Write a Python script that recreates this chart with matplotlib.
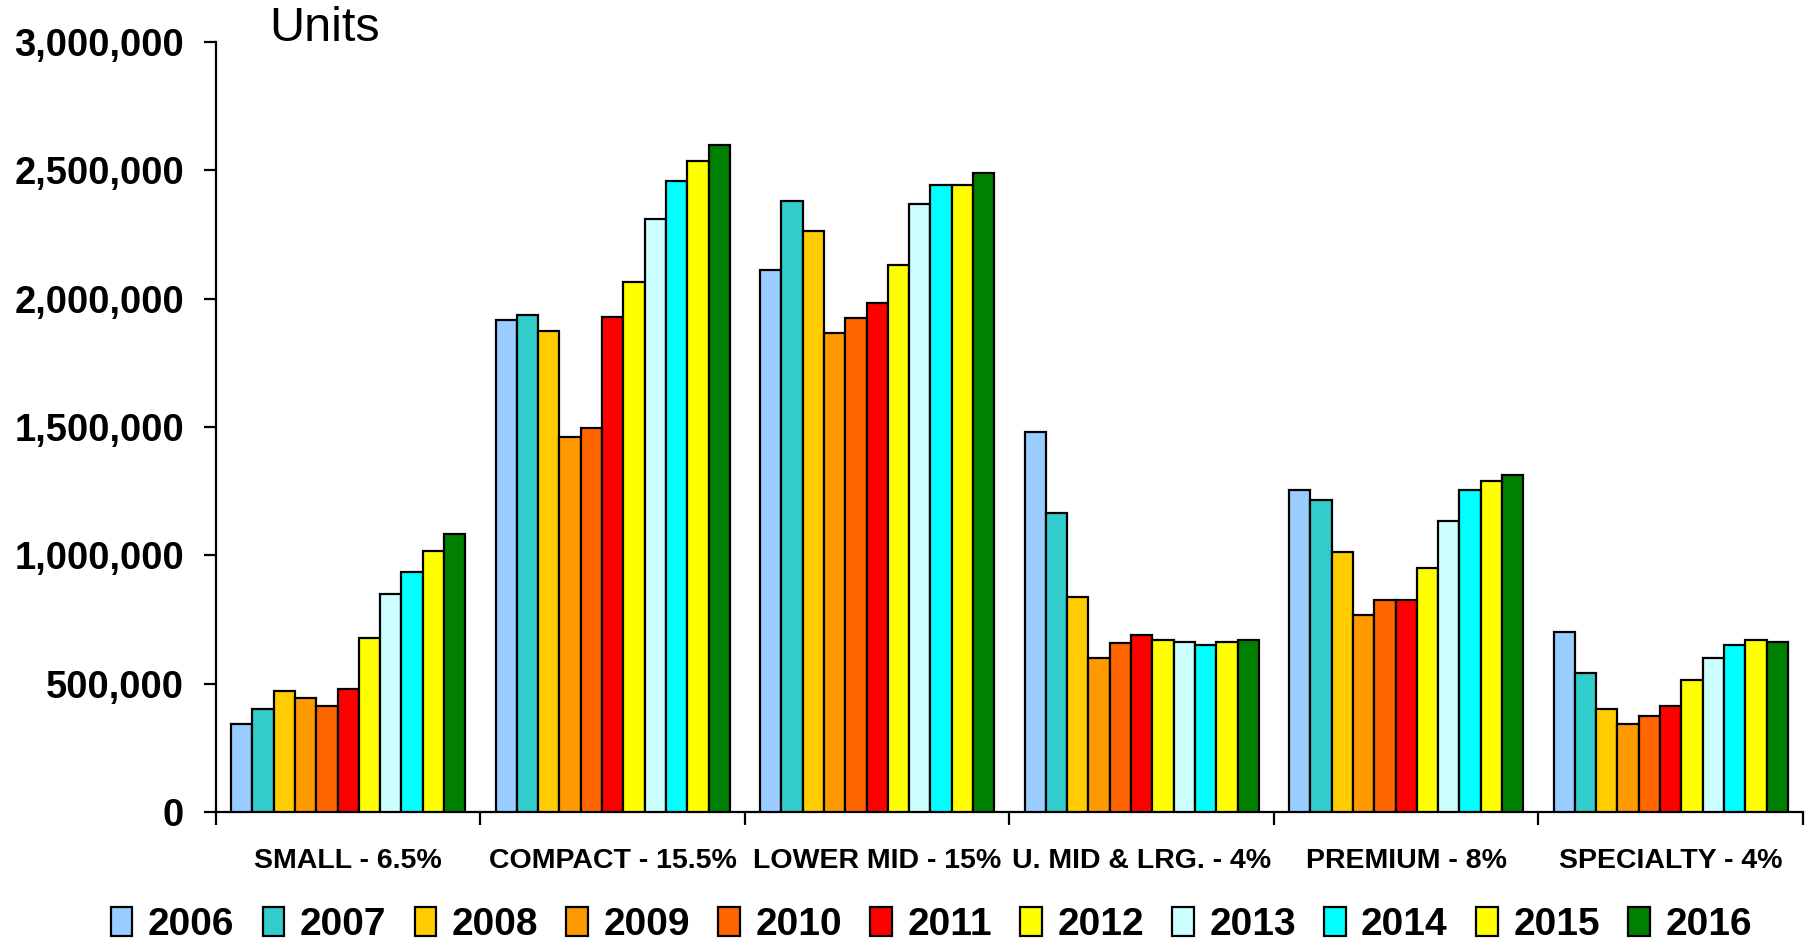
import matplotlib
matplotlib.use("Agg")
import matplotlib.pyplot as plt
import numpy as np
from matplotlib.ticker import FuncFormatter

plt.rcParams['font.family'] = ['Liberation Sans', 'DejaVu Sans']

# categories and yearly sales (units)
categories = ["SMALL - 6.5%", "COMPACT - 15.5%", "LOWER MID - 15%",
              "U. MID & LRG. - 4%", "PREMIUM - 8%", "SPECIALTY - 4%"]
years = ["2006", "2007", "2008", "2009", "2010", "2011",
         "2012", "2013", "2014", "2015", "2016"]

small = [342000, 400000, 472000, 445000, 414000, 481000, 679000, 850000, 935000, 1016000, 1084000]
compact = [1916000, 1938000, 1875000, 1461000, 1497000, 1929000, 2064000, 2311000, 2460000, 2536000, 2599000]
lower_mid = [2113000, 2379000, 2262000, 1866000, 1925000, 1983000, 2131000, 2370000, 2442000, 2442000, 2491000]
upper_mid = [1479000, 1165000, 836000, 598000, 657000, 688000, 670000, 661000, 652000, 661000, 670000]
premium = [1255000, 1214000, 1012000, 769000, 827000, 827000, 949000, 1133000, 1255000, 1290000, 1313000]
specialty = [701000, 540000, 400000, 342000, 373000, 414000, 513000, 598000, 652000, 670000, 661000]

colors = ["#99CCFF", "#33CCCC", "#FFCC00", "#FF9900", "#FF6600", "#FF0000",
          "#FFFF00", "#CCFFFF", "#00FFFF", "#FFFF00", "#008000"]

data = np.array([small, compact, lower_mid, upper_mid, premium, specialty])

fig = plt.figure(figsize=(18.12, 9.41), dpi=100)
ax = fig.add_axes([0.1192, 0.1371, 0.8758, 0.8183])

n = len(years)
group_w = 0.886
bar_w = group_w / n
x = np.arange(len(categories))
handles = []
for i, yr in enumerate(years):
    pos = x - group_w / 2 + bar_w * (i + 0.5)
    b = ax.bar(pos, data[:, i], width=bar_w, color=colors[i],
               edgecolor="black", linewidth=1.6, label=yr, zorder=3)
    handles.append(b)

ax.set_xlim(-0.5, len(categories) - 0.5)
ax.set_ylim(0, 3000000)
ax.set_yticks(np.arange(0, 3000001, 500000))
ax.yaxis.set_major_formatter(FuncFormatter(lambda v, p: f"{int(v):,}"))
for lab in ax.get_yticklabels():
    lab.set_fontweight("bold")
    lab.set_fontsize(27.5)

# category boundaries get the ticks, names sit between them
ax.set_xticks(np.arange(-0.5, len(categories), 1.0))
ax.set_xticklabels([])
ax.tick_params(axis="x", direction="out", length=9, width=1.6)
ax.tick_params(axis="y", direction="out", length=9, width=1.6, pad=14)
for c, name in zip(x, categories):
    ax.text(c, -0.063, name, transform=ax.get_xaxis_transform(),
            ha="center", va="center", fontsize=20.5, fontweight="bold")

for s in ["top", "right"]:
    ax.spines[s].set_visible(False)
for s in ["left", "bottom"]:
    ax.spines[s].set_linewidth(1.6)

fig.text(0.1486, 0.970, "Units", fontsize=35, ha="left", va="center")

leg = fig.legend(handles=handles, labels=years, loc="center", ncol=n,
                 bbox_to_anchor=(0.514, 0.017), frameon=False,
                 prop={"weight": "bold", "size": 28},
                 handlelength=0.55, handleheight=0.75, handletextpad=0.4,
                 columnspacing=0.73, borderaxespad=0)

fig.savefig("out.png", dpi=100)
